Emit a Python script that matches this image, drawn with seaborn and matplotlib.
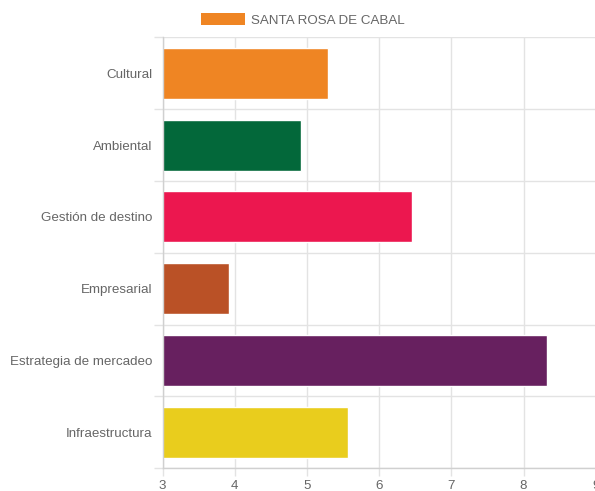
import matplotlib
matplotlib.use("Agg")
import matplotlib.pyplot as plt
from matplotlib.patches import Patch
import seaborn as sns

# Values
categories = [
    "Cultural",
    "Ambiental",
    "Gestión de destino",
    "Empresarial",
    "Estrategia de mercadeo",
    "Infraestructura",
]
values = [5.29, 4.92, 6.45, 3.92, 8.33, 5.57]
bar_colors = ["#EF8523", "#03683A", "#EC174F", "#BA5126", "#67205F", "#E9CD1D"]
series_name = "SANTA ROSA DE CABAL"
series_color = "#EF8523"
x_ticks = [3, 4, 5, 6, 7, 8, 9]

sns.set_theme(style="white")
plt.rcParams["font.family"] = ["Liberation Sans", "DejaVu Sans"]

grid_color = "#E3E3E3"
text_color = "#666666"
font_size = 9.6

fig = plt.figure(figsize=(5.95, 4.91), dpi=100)
W, H = 595, 491
left, right, top, bottom = 162.7, 595.7, 37.3, 468.3
ax = fig.add_axes([left / W, 1 - bottom / H, (right - left) / W, (bottom - top) / H])

sns.barplot(
    x=values,
    y=categories,
    hue=categories,
    palette=bar_colors,
    saturation=1,
    legend=False,
    width=0.71,
    orient="h",
    ax=ax,
)

ax.set_xlim(x_ticks[0], x_ticks[-1])
ax.set_ylim(len(categories) - 0.5, -0.5)
ax.set_xticks(x_ticks)
ax.set_xticklabels([str(t) for t in x_ticks])

# category separators (offset gridlines)
ax.set_yticks([i - 0.5 for i in range(len(categories) + 1)], minor=True)
ax.grid(axis="x", which="major", color=grid_color, linewidth=1)
ax.grid(axis="y", which="minor", color=grid_color, linewidth=1)
ax.set_axisbelow(True)

ax.tick_params(axis="x", which="major", length=6, color=grid_color, width=1,
               labelsize=font_size, labelcolor=text_color, pad=2.5, bottom=True)
ax.tick_params(axis="y", which="major", length=0, labelsize=font_size,
               labelcolor=text_color, pad=7.5)
ax.tick_params(axis="y", which="minor", length=6.5, color=grid_color, width=1, left=True)

for side in ["top", "right"]:
    ax.spines[side].set_visible(False)
for side in ["left", "bottom"]:
    ax.spines[side].set_color("#D0D0D0")
    ax.spines[side].set_linewidth(1)

ax.set_xlabel("")
ax.set_ylabel("")

fig.legend(
    handles=[Patch(facecolor=series_color, edgecolor="none", label=series_name)],
    loc="center",
    bbox_to_anchor=(303 / W, 1 - 20 / H),
    frameon=False,
    fontsize=font_size,
    labelcolor=text_color,
    handlelength=3.3,
    handleheight=1.0,
    handletextpad=0.5,
)

fig.savefig("out.png", dpi=100)
